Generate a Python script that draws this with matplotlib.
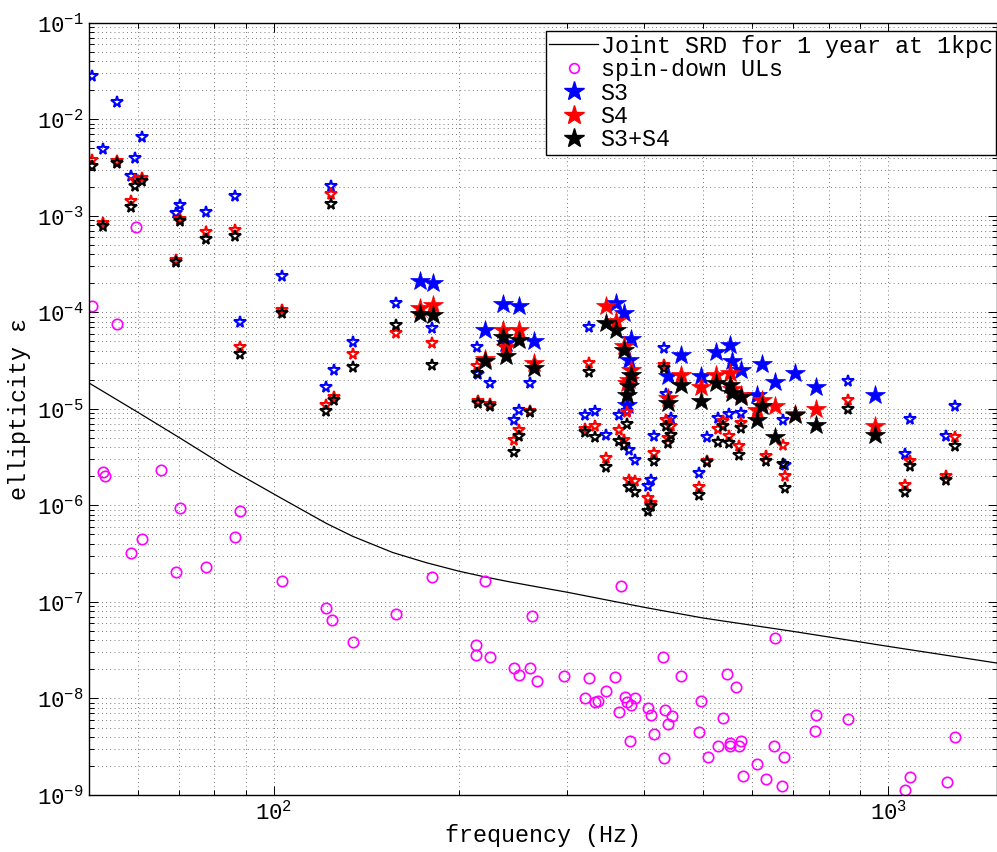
import numpy as np
import matplotlib
matplotlib.use("Agg")
import matplotlib.pyplot as plt
from matplotlib.lines import Line2D
from matplotlib.ticker import LogLocator, NullFormatter, LogFormatterMathtext

nan = np.nan

# joint sensitivity curve, 1 year at 1 kpc
srd_freq = [50, 59.7, 70.3, 84.7, 103.4, 121.7, 134.4, 156, 176.9, 200, 220, 241, 270, 300,
            400, 500, 700, 1000, 1500]
srd_eps = [1.85e-5, 9.4e-6, 4.98e-6, 2.38e-6, 1.16e-6, 6.5e-7, 4.77e-7, 3.25e-7, 2.55e-7,
           2.08e-7, 1.82e-7, 1.62e-7, 1.42e-7, 1.26e-7, 8.8e-8, 6.8e-8, 4.95e-8, 3.46e-8, 2.33e-8]

# spin-down upper limits
sd_freq = [50.6, 55.6, 59.6, 52.6, 53.0, 65.5, 70.3, 88.0, 60.9, 58.5, 86.4, 69.2, 77.6,
           103.2, 121.4, 124.5, 134.5, 158.1, 180.5, 220.9, 213.4, 213.4, 225, 367.6, 263.2,
           654.4, 429.1, 245.6, 250.3, 261.5, 267.7, 296.9, 326, 359.4, 459.6, 547.1, 564.7,
           347, 321, 333.3, 337, 372.7, 375.8, 381, 387.4, 363.9, 405.6, 410.9, 432.7, 443.9,
           437.2, 415.9, 380, 431.9, 495.4, 491.6, 509.2, 537.2, 528.5, 552.8, 552.8, 575.4,
           572, 579.8, 611.8, 632, 652.6, 676.5, 671, 762, 759, 860, 1083, 1064, 1246, 1284]
sd_eps = [1.15e-4, 7.6e-5, 7.6e-4, 2.21e-6, 1.99e-6, 2.3e-6, 9.4e-7, 8.8e-7, 4.5e-7, 3.2e-7,
          4.7e-7, 2.04e-7, 2.28e-7, 1.63e-7, 8.65e-8, 6.44e-8, 3.81e-8, 7.55e-8, 1.81e-7,
          1.66e-7, 3.6e-8, 2.84e-8, 2.69e-8, 1.45e-7, 7.08e-8, 4.23e-8, 2.67e-8, 2.07e-8,
          1.77e-8, 2.07e-8, 1.53e-8, 1.72e-8, 1.61e-8, 1.67e-8, 1.72e-8, 1.8e-8, 1.3e-8,
          1.19e-8, 1.01e-8, 9.27e-9, 9.5e-9, 1.04e-8, 9.1e-9, 8.5e-9, 1.01e-8, 7.3e-9, 7.97e-9,
          6.68e-9, 7.53e-9, 6.64e-9, 5.48e-9, 4.25e-9, 3.6e-9, 2.4e-9, 9.3e-9, 4.45e-9, 2.48e-9,
          6.22e-9, 3.25e-9, 3.46e-9, 3.2e-9, 3.6e-9, 3.2e-9, 1.56e-9, 2.07e-9, 1.45e-9, 3.2e-9,
          2.48e-9, 1.23e-9, 6.68e-9, 4.56e-9, 6.14e-9, 1.54e-9, 1.14e-9, 1.37e-9, 3.95e-9]

# pulsars drawn with small open stars
small_freq = [50.5, 52.7, 55.6, 58.6, 59.4, 60.9, 69.2, 70.3, 77.6, 86.4, 88.0, 103.2, 121.4,
              124.0, 125.0, 134.5, 157.8, 180.5, 213.8, 214.5, 225.1, 246.3, 250.3, 261.5,
              321.3, 326.1, 333.5, 347.1, 363.9, 372.0, 376.0, 378.8, 387.4, 405.6, 410.9,
              415.9, 431.9, 435.0, 442.1, 437.5, 492.2, 507.7, 528.6, 537.2, 550.0, 575.0,
              572.0, 631.9, 673.0, 678.0, 861.0, 1064.0, 1083.0, 1240.0, 1284.0]
small_s3 = [2.8e-2, 4.9e-3, 1.5e-2, 2.6e-3, 4.0e-3, 6.6e-3, 1.06e-3, 1.3e-3, 1.1e-3, 1.6e-3,
            7.9e-5, 2.38e-4, 1.7e-5, 2.05e-3, 2.5e-5, 4.9e-5, 1.26e-4, 6.8e-5, 4.35e-5, 2.3e-5,
            1.87e-5, 7.6e-6, 9.8e-6, 1.87e-5, 8.7e-6, 7.1e-5, 9.4e-6, 5.3e-6, 8.7e-6, nan,
            9.4e-6, 3.7e-6, 2.97e-6, 1.6e-6, 1.84e-6, 5.2e-6, 4.25e-5, 1.43e-5, 8.0e-6, nan,
            2.16e-6, 5.1e-6, 8.0e-6, nan, 8.8e-6, 9.0e-6, nan, nan, 7.7e-6, 2.6e-6, 1.92e-5,
            3.42e-6, 7.9e-6, 5.2e-6, 1.06e-5]
small_s4 = [3.8e-3, 8.3e-4, 3.7e-3, 1.42e-3, 2.35e-3, 2.45e-3, 3.5e-4, 9.3e-4, 6.7e-4, 7.1e-4,
            4.35e-5, 1.05e-4, 1.1e-5, 1.68e-3, 1.31e-5, 3.7e-5, 6.1e-5, 4.85e-5, 2.8e-5, 1.2e-5,
            1.13e-5, 4.8e-6, 6.1e-6, 9.6e-6, 6.2e-6, 2.97e-5, 6.6e-6, 3.09e-6, 6.1e-6, 4.8e-6,
            9.2e-6, 1.84e-6, 1.78e-6, 1.2e-6, 1.05e-6, 3.48e-6, 2.85e-5, 7.6e-6, 6.6e-6, 5.0e-6,
            1.55e-6, 2.9e-6, 6.2e-6, 7.5e-6, 5.2e-6, 7.2e-6, 4.1e-6, 3.26e-6, 4.24e-6, 2.0e-6,
            1.24e-5, 1.63e-6, 2.9e-6, 1.99e-6, 5.1e-6]
small_s34 = [3.3e-3, 7.9e-4, 3.5e-3, 1.24e-3, 2.05e-3, 2.3e-3, 3.35e-4, 8.9e-4, 5.7e-4, 6.2e-4,
             3.7e-5, 9.8e-5, 9.6e-6, 1.32e-3, 1.24e-5, 2.74e-5, 7.3e-5, 2.85e-5, 2.34e-5, 1.15e-5,
             1.08e-5, 3.53e-6, 5.2e-6, 9.2e-6, 5.8e-6, 2.43e-5, 5.1e-6, 2.49e-6, 4.6e-6, 4.2e-6,
             6.95e-6, 1.55e-6, 1.36e-6, 8.65e-7, 9.8e-7, 2.85e-6, 2.64e-5, 6.56e-6, 5.4e-6, 4.4e-6,
             1.29e-6, 2.8e-6, 4.5e-6, 6.6e-6, 4.4e-6, 6.3e-6, 3.34e-6, 2.85e-6, 2.7e-6, 1.51e-6,
             9.9e-6, 1.36e-6, 2.53e-6, 1.81e-6, 4.14e-6]

# pulsars drawn with large filled stars
large_freq = [172.6, 181.4, 220.9, 236.3, 238.6, 250.9, 265.4, 346.5, 360.3, 370.8, 381.2,
              379.0, 376.0, 437.2, 459.7, 495.4, 524.1, 552.7, 556.0, 575.4, 611.8, 622.6,
              654.4, 705.3, 762.0, 951.5]
large_s3 = [2.13e-4, 2.0e-4, 6.5e-5, 1.22e-4, 4.8e-5, 1.16e-4, 5.0e-5, nan, 1.24e-4, 9.8e-5,
            5.3e-5, 3.2e-5, 1.1e-5, 2.16e-5, 3.6e-5, 2.16e-5, 3.9e-5, 4.6e-5, 3.1e-5, 2.53e-5,
            1.4e-5, 2.92e-5, 1.89e-5, 2.34e-5, 1.7e-5, 1.4e-5]
large_s4 = [1.1e-4, 1.19e-4, 3.3e-5, 6.6e-5, 4.4e-5, 6.6e-5, 2.97e-5, 1.16e-4, 8.2e-5, 4.5e-5,
            2.53e-5, 2.0e-5, 1.85e-5, 1.3e-5, 2.25e-5, 1.7e-5, 2.25e-5, 2.34e-5, 1.6e-5, 1.4e-5,
            9.8e-6, 1.24e-5, 1.07e-5, 8.9e-6, 9.9e-6, 6.56e-6]
large_s34 = [9.5e-5, 9.4e-5, 3.1e-5, 5.6e-5, 3.5e-5, 5.2e-5, 2.64e-5, 7.8e-5, 6.5e-5, 4.1e-5,
             2.25e-5, 1.73e-5, 1.4e-5, 1.15e-5, 1.77e-5, 1.19e-5, 1.85e-5, 1.77e-5, 1.45e-5,
             1.34e-5, 7.7e-6, 1.07e-5, 5.1e-6, 8.6e-6, 6.8e-6, 5.4e-6]

labels = ["Joint SRD for 1 year at 1kpc", "spin-down ULs", "S3", "S4", "S3+S4"]
x_ticks = [1e2, 1e3]
y_ticks = [1e-9, 1e-8, 1e-7, 1e-6, 1e-5, 1e-4, 1e-3, 1e-2, 1e-1]
MAGENTA = "#ff00ff"

plt.rcParams['font.family'] = ['Liberation Mono', 'DejaVu Sans Mono']
plt.rcParams['mathtext.fontset'] = 'custom'
plt.rcParams['mathtext.rm'] = 'Liberation Mono'
plt.rcParams['mathtext.default'] = 'regular'


def main():
    fig = plt.figure(figsize=(9.97, 8.52), dpi=100)
    ax = fig.add_axes([0.0893, 0.0669, 0.9102, 0.9066])
    ax.set_xscale('log')
    ax.set_yscale('log')

    ax.plot(srd_freq, srd_eps, color='k', lw=0.9)
    ax.plot(sd_freq, sd_eps, ls='none', marker='o', mfc='none', mec=MAGENTA, ms=7.5, mew=1.2)

    series = [(small_s3, large_s3, 'b'), (small_s4, large_s4, 'r'), (small_s34, large_s34, 'k')]
    for small, large, c in series:
        ax.plot(small_freq, small, ls='none', marker='*', mfc='none', mec=c, ms=8.5, mew=1.5)
        ax.plot(large_freq, large, ls='none', marker='*', color=c, ms=15, mew=0.5)

    ax.set_xlim(50, 1500)
    ax.set_ylim(1e-9, 1e-1)

    ax.set_xticks(x_ticks)
    ax.set_yticks(y_ticks)
    ax.xaxis.set_minor_locator(LogLocator(base=10, subs=np.arange(2, 10), numticks=100))
    ax.yaxis.set_minor_locator(LogLocator(base=10, subs=np.arange(2, 10), numticks=100))
    ax.xaxis.set_major_formatter(LogFormatterMathtext())
    ax.yaxis.set_major_formatter(LogFormatterMathtext())
    ax.xaxis.set_minor_formatter(NullFormatter())
    ax.yaxis.set_minor_formatter(NullFormatter())

    ax.grid(True, which='both', color='0.3', lw=0.6, ls=(0, (1, 4)))
    ax.tick_params(which='both', direction='in', top=True, right=True, width=0.7, labelsize=16)
    ax.tick_params(which='major', length=6.5, pad=4)
    ax.tick_params(which='minor', length=3.5)
    for s in ax.spines.values():
        s.set_linewidth(1.0)

    ax.set_xlabel("frequency (Hz)", fontsize=16.8, labelpad=0)
    ax.set_ylabel("ellipticity ε", fontsize=16.8, labelpad=4)

    handles = [
        Line2D([], [], color='k', lw=0.9),
        Line2D([], [], ls='none', marker='o', mfc='none', mec=MAGENTA, ms=7, mew=1.2),
        Line2D([], [], ls='none', marker='*', color='b', ms=15),
        Line2D([], [], ls='none', marker='*', color='r', ms=15),
        Line2D([], [], ls='none', marker='*', color='k', ms=15),
    ]
    leg = ax.legend(handles, labels, loc='upper right', bbox_to_anchor=(0.9995, 0.989),
                    borderaxespad=0, fancybox=False, edgecolor='k', framealpha=1,
                    fontsize=16.8, handlelength=2.1, handletextpad=0.1, labelspacing=0.02,
                    borderpad=0.15)
    leg.get_frame().set_linewidth(1.0)

    fig.savefig("out.png", dpi=100)


if __name__ == "__main__":
    main()
